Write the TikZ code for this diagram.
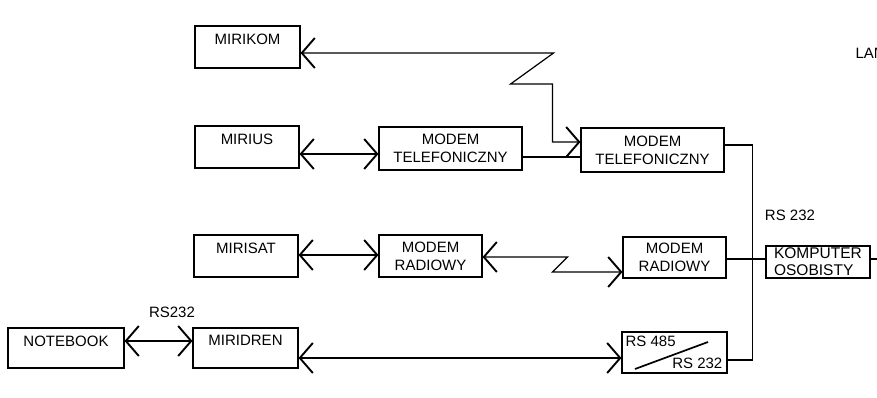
\documentclass[tikz,border=0pt]{standalone}
\usepackage{fontspec}
\setmainfont{Liberation Sans}
\usetikzlibrary{arrows.meta, positioning, calc}

\tikzset{
  dev/.style={draw, line width=1.1pt, minimum width=104pt, minimum height=42pt, inner sep=0pt},
  devlbl/.style={anchor=north, yshift=-6pt, inner sep=2pt},
  modem/.style={dev, align=center},
  link/.style={line width=1.2pt, >={Straight Barb[length=13pt, width=30pt, line width=1.9pt]}},
}

\begin{document}
\begin{tikzpicture}[x=1pt, y=-1pt, font=\fontsize{15}{18}\selectfont]
  \fill[white] (0,0) rectangle (877,398);
  \useasboundingbox (0,0) rectangle (877,398);

  % stations
  \node[dev, minimum width=105pt, label={[devlbl]north:MIRIKOM}] (mirikom) at (247.5,47) {};
  \node[dev, label={[devlbl]north:MIRIUS}] (mirius) at (247,147) {};
  \node[dev, label={[devlbl]north:MIRISAT}] (mirisat) at (246,256) {};
  \node[dev, minimum width=116pt, minimum height=40pt, label={[devlbl]north:NOTEBOOK}] (notebook) at (66,348) {};
  \node[dev, minimum width=105pt, minimum height=40pt, label={[devlbl]north:MIRIDREN}] (miridren) at (245.5,348) {};

  % modems
  \node[modem, minimum width=143pt, minimum height=43pt] (telL) at (450.5,148.5) {MODEM\\TELEFONICZNY};
  \node[modem, minimum width=143pt, minimum height=44pt] (telR) at (652.5,150) {MODEM\\TELEFONICZNY};
  \node[modem, minimum width=103pt] (radL) at (430.5,256) {MODEM\\RADIOWY};
  \node[modem, minimum width=103pt, minimum height=41pt] (radR) at (674.5,257.5) {MODEM\\RADIOWY};
  \node[dev, minimum height=32pt, align=left, font=\fontsize{15.5}{17}\selectfont] (pc) at (818,262) {KOMPUTER\\OSOBISTY};

  % converter
  \node[dev, minimum width=105pt, minimum height=41pt] (rs485) at (674.5,352.5) {};
  \node[anchor=north west, inner sep=4pt] (rsin) at (rs485.north west) {RS 485};
  \node[anchor=south east, inner sep=5pt] (rsout) at (rs485.south east) {RS 232};
  \draw[line width=1.7pt] ($(rs485.center)+(-39.5,16.5)$) -- ($(rs485.center)+(33.5,-10.5)$);

  % labels
  \node (rsbus) at (790,215) {RS 232};
  \node (rsnote) at (172,312) {RS232};
  \node[anchor=west] (lan) at (852,53) {LAN};
  \coordinate (lanend) at (877,259);

  % connections
  \draw[link, <->] ([yshift=-6pt]mirikom.east) -- ++(253,0) -- ++(-43,31) -- ++(42,0)
    |- ([yshift=8pt]telR.west);
  \draw[link, <->] ([yshift=-7pt]mirius.east) -- ([yshift=-5.5pt]telL.west);
  \draw[link] ([yshift=-8.5pt]telL.east) -- ([yshift=-7pt]telR.west);
  \draw[link] ([yshift=5pt]telR.east) -- ++(28,0) |- ([yshift=-7.5pt]rs485.east);
  \draw[link, <->] ([yshift=1pt]mirisat.east) -- ([yshift=1pt]radL.west);
  \draw[link, <->] ([yshift=-1pt]radL.east) -- ++(85,0) -- ++(-15,15) -- ([yshift=-14.5pt]radR.west);
  \draw[link] ([yshift=-1.5pt]radR.east) -- ([yshift=3pt]pc.west);
  \draw[link] ([yshift=3pt]pc.east) -- (lanend);
  \draw[link, <->] ([yshift=7pt]notebook.east) -- ([yshift=7pt]miridren.west);
  \draw[link, <->] ([yshift=-10pt]miridren.east) -- ([yshift=-5.5pt]rs485.west);
\end{tikzpicture}
\end{document}
